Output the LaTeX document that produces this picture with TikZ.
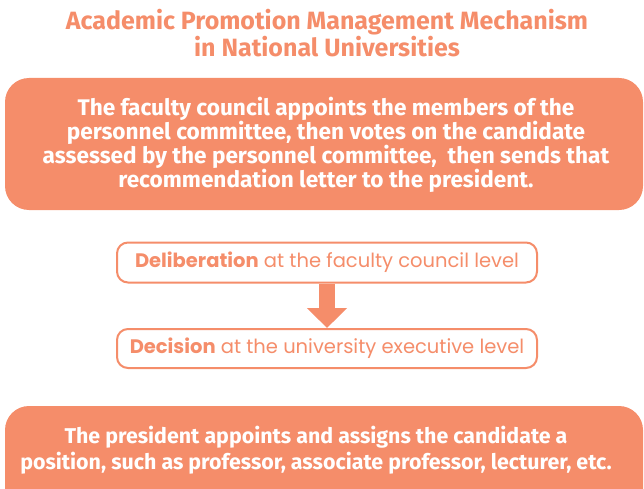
\documentclass[tikz,border=0pt]{standalone}
\usepackage{fontspec}
\setmainfont{Fira Sans}
\newfontfamily\pop{Poppins}
\usetikzlibrary{arrows.meta}
\definecolor{salmon}{RGB}{245,141,106}
\tikzset{
  bigbox/.style={fill=salmon, draw=none, rounded corners=24pt, inner sep=0pt},
  bigtext/.style={text=white, align=center},
  stagebox/.style={draw=salmon, line width=2pt, fill=white, rounded corners=11pt, inner sep=0pt,
    text=salmon, font=\pop\fontsize{19.5}{22}\selectfont},
  flow/.style={draw=salmon, line width=16pt, -{Triangle[width=39pt,length=20pt]}}
}
\begin{document}
\begin{tikzpicture}[x=1pt,y=-1pt]
\useasboundingbox (0,0) rectangle (644,489);
\node[text=salmon, font=\fontsize{25}{27}\selectfont\bfseries, align=center] (title) at (327,33)
  {Academic Promotion Management Mechanism\\in National Universities};
\node[bigbox, minimum width=638pt, minimum height=132pt] (council) at (324,144) {};
\node[bigtext, font=\fontsize{22.6}{23.8}\selectfont\bfseries] (counciltext) at (326,145)
  {The faculty council appoints the members of the\\personnel committee, then votes on the candidate\\assessed by the personnel committee,\ \ then sends that\\recommendation letter to the president.};
\node[stagebox, minimum width=420pt, minimum height=40pt] (delib) at (327,262.5)
  {{\bfseries Deliberation} at the faculty council level};
\node[stagebox, minimum width=420pt, minimum height=39pt] (decis) at (327,348.5)
  {{\bfseries Decision} at the university executive level};
\draw[flow] (delib.south) -- (decis.north);
\node[bigbox, minimum width=638pt, minimum height=124pt] (president) at (324,468) {};
\node[bigtext, font=\fontsize{21.4}{26}\selectfont\bfseries] (presidenttext) at (316,450)
  {The president appoints and assigns the candidate a\\position, such as professor, associate professor, lecturer, etc.};
\end{tikzpicture}
\end{document}
